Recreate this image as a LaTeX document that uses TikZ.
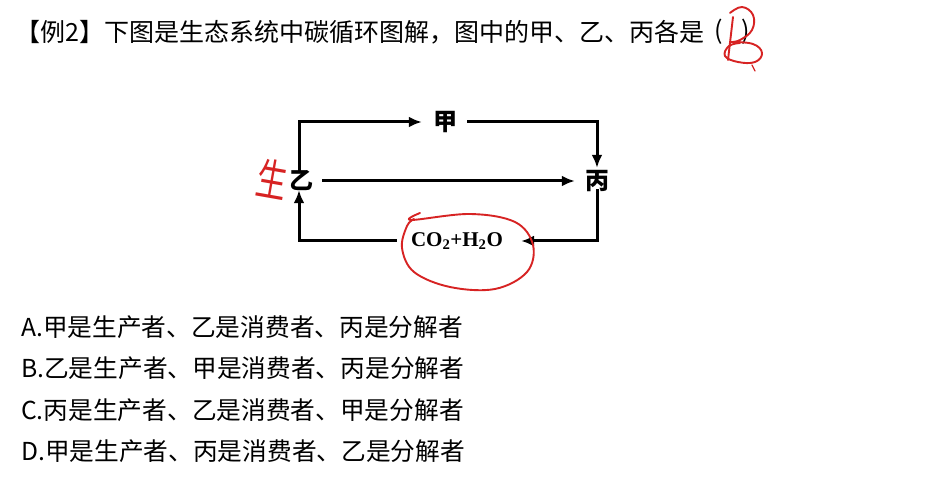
\documentclass[tikz,border=0pt]{standalone}
\usepackage{fontspec}
\setmainfont{Noto Sans CJK SC}
\newfontfamily\latinserif{Liberation Serif}
\usetikzlibrary{arrows.meta}
\definecolor{pen}{RGB}{215,35,35}
\tikzset{
  title/.style={anchor=west,inner sep=0pt,font=\fontsize{25}{30}\selectfont},
  option/.style={anchor=west,inner sep=0pt,font=\fontsize{24.7}{30}\selectfont},
  lbl/.style={inner sep=0pt,minimum width=24pt,minimum height=24pt,font=\fontsize{24}{26}\selectfont\bfseries},
  chem/.style={inner sep=0pt,minimum height=22pt,font=\fontsize{21}{22}\selectfont\latinserif\bfseries},
  flow/.style={line width=3pt,-{Latex[length=13pt,width=11pt]}},
  ink/.style={pen,line width=1.9pt,line cap=round,line join=round},
}
\begin{document}
\begin{tikzpicture}[x=1pt,y=-1pt]
\path[fill=white,use as bounding box] (0,0) rectangle (935,481);

% title
\node[title] (t) at (15,32) {【例2】下图是生态系统中碳循环图解，图中的甲、乙、丙各是};
\node[title] (lp) at (714,32) {(};
\node[title] (rp) at (741,32) {)};

% diagram nodes
\node[lbl] (jia) at (445,122) {甲};
\node[lbl] (yi) at (301,181) {乙};
\node[lbl] (bing) at (597,181) {丙};
\node[chem] (co2) at (457,241) {CO\textsubscript{2}+H\textsubscript{2}O};

% connectors
\draw[flow] ([xshift=-2pt,yshift=-2pt]yi.north) |- ([xshift=-11pt]jia.west);
\draw[flow] ([xshift=10pt]jia.east) -| ([yshift=1pt]bing.north);
\draw[flow] ([xshift=9pt]yi.east) -- ([xshift=-10pt]bing.west);
\draw[flow] ([yshift=4pt]bing.south) |- ([xshift=18pt]co2.east);
\draw[flow] ([xshift=-14pt]co2.west) -| ([xshift=-2pt,yshift=3pt]yi.south);

% options
\node[option] (a) at (21,327) {A.甲是生产者、乙是消费者、丙是分解者};
\node[option] (b) at (21,368) {B.乙是生产者、甲是消费者、丙是分解者};
\node[option] (c) at (21,410) {C.丙是生产者、乙是消费者、甲是分解者};
\node[option] (d) at (21,451) {D.甲是生产者、丙是消费者、乙是分解者};

% red handwriting
\node[pen,inner sep=0pt,rotate=-10,xscale=0.8,yscale=1.15,font=\fontsize{38}{40}\selectfont] (sheng) at (272,179) {生};
\draw[ink] plot[smooth,tension=0.6] coordinates {(420,213) (411,220) (470,214) (515,222) (533,245) (527,272) (495,289) (450,287) (414,272) (402,248) (407,226) (414,219)};
\draw[ink] (733,17) -- (728,60);
\draw[ink] plot[smooth,tension=0.7] coordinates {(730,13) (742,7) (753,15) (752,30) (740,40) (731,42)};
\draw[ink] plot[smooth,tension=0.7] coordinates {(732,42) (753,44) (762,53) (755,62) (738,62) (725,56) (729,46) (740,43)};
\draw[ink,line width=1.2pt] (752,65) -- (755,71);
\end{tikzpicture}
\end{document}
